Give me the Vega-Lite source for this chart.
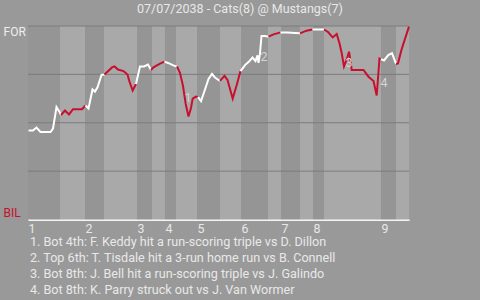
{
  "$schema": "https://vega.github.io/schema/vega-lite/v6.json",
  "width": 381,
  "height": 193.5,
  "autosize": {"type": "none"},
  "padding": {"left": 28, "top": 26, "right": 71, "bottom": 80.5},
  "background": "#999999",
  "config": {
    "view": {"stroke": null},
    "font": "Roboto",
    "axis": {"grid": false, "ticks": false, "domainColor": "#f4f4f4", "labelColor": "#e8e8e8", "labelFont": "Roboto", "labelFontSize": 12.4, "titleFont": "Roboto", "titleFontSize": 12.6, "titleFontWeight": "normal", "titleColor": "#e8e8e8", "zindex": 1}
  },
  "title": {"text": "07/07/2038 - Cats(8) @ Mustangs(7)", "font": "Roboto", "fontSize": 12.5, "fontWeight": "normal", "color": "#e8e8e8", "frame": "group", "anchor": "middle", "dx": 21.5, "offset": 7.5},
  "datasets": {
    "bands": [
      {"t": 0, "t2": 10.67, "side": "top"},
      {"t": 10.67, "t2": 19, "side": "bot"},
      {"t": 19, "t2": 25.33, "side": "top"},
      {"t": 25.33, "t2": 36.33, "side": "bot"},
      {"t": 36.33, "t2": 41.33, "side": "top"},
      {"t": 41.33, "t2": 45.67, "side": "bot"},
      {"t": 45.67, "t2": 49.33, "side": "top"},
      {"t": 49.33, "t2": 56.33, "side": "bot"},
      {"t": 56.33, "t2": 64, "side": "top"},
      {"t": 64, "t2": 71, "side": "bot"},
      {"t": 71, "t2": 80, "side": "top"},
      {"t": 80, "t2": 84.33, "side": "bot"},
      {"t": 84.33, "t2": 90.67, "side": "top"},
      {"t": 90.67, "t2": 95, "side": "bot"},
      {"t": 95, "t2": 98.67, "side": "top"},
      {"t": 98.67, "t2": 117.67, "side": "bot"},
      {"t": 117.67, "t2": 122.67, "side": "top"},
      {"t": 122.67, "t2": 127, "side": "bot"}
    ],
    "grid": [{"p": 0.25}, {"p": 0.5}, {"p": 0.75}, {"p": 1}],
    "wp": [
      {"t": 0.17, "p": 0.46, "h": "T1", "s": "top"},
      {"t": 1.67, "p": 0.46, "h": "T1", "s": "top"},
      {"t": 2.83, "p": 0.475, "h": "T1", "s": "top"},
      {"t": 4.17, "p": 0.452, "h": "T1", "s": "top"},
      {"t": 7.5, "p": 0.452, "h": "T1", "s": "top"},
      {"t": 8.33, "p": 0.47, "h": "T1", "s": "top"},
      {"t": 9.5, "p": 0.581, "h": "T1", "s": "top"},
      {"t": 10.5, "p": 0.556, "h": "T1", "s": "top"},
      {"t": 11, "p": 0.54, "h": "T1", "s": "top"},
      {"t": 11, "p": 0.54, "h": "B1", "s": "bot"},
      {"t": 12.33, "p": 0.563, "h": "B1", "s": "bot"},
      {"t": 13.67, "p": 0.543, "h": "B1", "s": "bot"},
      {"t": 15, "p": 0.57, "h": "B1", "s": "bot"},
      {"t": 18, "p": 0.57, "h": "B1", "s": "bot"},
      {"t": 19.17, "p": 0.589, "h": "B1", "s": "bot"},
      {"t": 19.17, "p": 0.589, "h": "T2", "s": "top"},
      {"t": 20.17, "p": 0.574, "h": "T2", "s": "top"},
      {"t": 21.5, "p": 0.672, "h": "T2", "s": "top"},
      {"t": 22.33, "p": 0.661, "h": "T2", "s": "top"},
      {"t": 23.17, "p": 0.683, "h": "T2", "s": "top"},
      {"t": 24.5, "p": 0.747, "h": "T2", "s": "top"},
      {"t": 25.5, "p": 0.749, "h": "T2", "s": "top"},
      {"t": 25.5, "p": 0.749, "h": "B2", "s": "bot"},
      {"t": 28, "p": 0.786, "h": "B2", "s": "bot"},
      {"t": 28.83, "p": 0.791, "h": "B2", "s": "bot"},
      {"t": 30, "p": 0.775, "h": "B2", "s": "bot"},
      {"t": 31.83, "p": 0.767, "h": "B2", "s": "bot"},
      {"t": 33.17, "p": 0.749, "h": "B2", "s": "bot"},
      {"t": 33.83, "p": 0.712, "h": "B2", "s": "bot"},
      {"t": 34.9, "p": 0.667, "h": "B2", "s": "bot"},
      {"t": 36, "p": 0.7, "h": "B2", "s": "bot"},
      {"t": 36, "p": 0.7, "h": "T3", "s": "top"},
      {"t": 37.33, "p": 0.791, "h": "T3", "s": "top"},
      {"t": 38.67, "p": 0.791, "h": "T3", "s": "top"},
      {"t": 40, "p": 0.801, "h": "T3", "s": "top"},
      {"t": 41, "p": 0.773, "h": "T3", "s": "top"},
      {"t": 41, "p": 0.773, "h": "B3", "s": "bot"},
      {"t": 41.83, "p": 0.786, "h": "B3", "s": "bot"},
      {"t": 44, "p": 0.806, "h": "B3", "s": "bot"},
      {"t": 45.5, "p": 0.816, "h": "B3", "s": "bot"},
      {"t": 45.5, "p": 0.816, "h": "T4", "s": "top"},
      {"t": 46.67, "p": 0.809, "h": "T4", "s": "top"},
      {"t": 49, "p": 0.793, "h": "T4", "s": "top"},
      {"t": 49.67, "p": 0.791, "h": "T4", "s": "top"},
      {"t": 49.67, "p": 0.791, "h": "B4", "s": "bot"},
      {"t": 50.67, "p": 0.757, "h": "B4", "s": "bot"},
      {"t": 51.67, "p": 0.69, "h": "B4", "s": "bot"},
      {"t": 52.57, "p": 0.597, "h": "B4", "s": "bot"},
      {"t": 53.5, "p": 0.532, "h": "B4", "s": "bot"},
      {"t": 54.33, "p": 0.576, "h": "B4", "s": "bot"},
      {"t": 54.9, "p": 0.625, "h": "B4", "s": "bot"},
      {"t": 56, "p": 0.635, "h": "B4", "s": "bot"},
      {"t": 56.67, "p": 0.633, "h": "B4", "s": "bot"},
      {"t": 56.67, "p": 0.633, "h": "T5", "s": "top"},
      {"t": 57.67, "p": 0.612, "h": "T5", "s": "top"},
      {"t": 58.83, "p": 0.664, "h": "T5", "s": "top"},
      {"t": 60.17, "p": 0.726, "h": "T5", "s": "top"},
      {"t": 61.33, "p": 0.752, "h": "T5", "s": "top"},
      {"t": 62.33, "p": 0.734, "h": "T5", "s": "top"},
      {"t": 64, "p": 0.716, "h": "T5", "s": "top"},
      {"t": 64, "p": 0.716, "h": "B5", "s": "bot"},
      {"t": 65.5, "p": 0.742, "h": "B5", "s": "bot"},
      {"t": 66.5, "p": 0.721, "h": "B5", "s": "bot"},
      {"t": 68.23, "p": 0.625, "h": "B5", "s": "bot"},
      {"t": 69.57, "p": 0.695, "h": "B5", "s": "bot"},
      {"t": 70.83, "p": 0.767, "h": "B5", "s": "bot"},
      {"t": 70.83, "p": 0.767, "h": "T6", "s": "top"},
      {"t": 72.33, "p": 0.798, "h": "T6", "s": "top"},
      {"t": 73.67, "p": 0.816, "h": "T6", "s": "top"},
      {"t": 74.83, "p": 0.837, "h": "T6", "s": "top"},
      {"t": 75.83, "p": 0.819, "h": "T6", "s": "top"},
      {"t": 76.5, "p": 0.848, "h": "T6", "s": "top"},
      {"t": 76.83, "p": 0.809, "h": "T6", "s": "top"},
      {"t": 77.33, "p": 0.859, "h": "T6", "s": "top"},
      {"t": 77.83, "p": 0.948, "h": "T6", "s": "top"},
      {"t": 79, "p": 0.948, "h": "T6", "s": "top"},
      {"t": 80.17, "p": 0.945, "h": "T6", "s": "top"},
      {"t": 80.17, "p": 0.945, "h": "B6", "s": "bot"},
      {"t": 81.83, "p": 0.957, "h": "B6", "s": "bot"},
      {"t": 84.17, "p": 0.967, "h": "B6", "s": "bot"},
      {"t": 84.17, "p": 0.967, "h": "T7", "s": "top"},
      {"t": 86.33, "p": 0.967, "h": "T7", "s": "top"},
      {"t": 90.67, "p": 0.962, "h": "T7", "s": "top"},
      {"t": 90.67, "p": 0.962, "h": "B7", "s": "bot"},
      {"t": 92.83, "p": 0.976, "h": "B7", "s": "bot"},
      {"t": 94.83, "p": 0.982, "h": "B7", "s": "bot"},
      {"t": 94.83, "p": 0.982, "h": "T8", "s": "top"},
      {"t": 98.67, "p": 0.982, "h": "T8", "s": "top"},
      {"t": 98.67, "p": 0.982, "h": "B8", "s": "bot"},
      {"t": 100, "p": 0.969, "h": "B8", "s": "bot"},
      {"t": 101.57, "p": 0.941, "h": "B8", "s": "bot"},
      {"t": 102.9, "p": 0.959, "h": "B8", "s": "bot"},
      {"t": 103.83, "p": 0.911, "h": "B8", "s": "bot"},
      {"t": 104.57, "p": 0.859, "h": "B8", "s": "bot"},
      {"t": 105.33, "p": 0.791, "h": "B8", "s": "bot"},
      {"t": 106.23, "p": 0.827, "h": "B8", "s": "bot"},
      {"t": 107, "p": 0.867, "h": "B8", "s": "bot"},
      {"t": 107.43, "p": 0.827, "h": "B8", "s": "bot"},
      {"t": 107.9, "p": 0.773, "h": "B8", "s": "bot"},
      {"t": 111.83, "p": 0.773, "h": "B8", "s": "bot"},
      {"t": 113.5, "p": 0.738, "h": "B8", "s": "bot"},
      {"t": 115.17, "p": 0.716, "h": "B8", "s": "bot"},
      {"t": 116.23, "p": 0.641, "h": "B8", "s": "bot"},
      {"t": 117.17, "p": 0.832, "h": "B8", "s": "bot"},
      {"t": 117.67, "p": 0.829, "h": "B8", "s": "bot"},
      {"t": 117.67, "p": 0.829, "h": "T9", "s": "top"},
      {"t": 118.67, "p": 0.822, "h": "T9", "s": "top"},
      {"t": 120.1, "p": 0.85, "h": "T9", "s": "top"},
      {"t": 121.33, "p": 0.86, "h": "T9", "s": "top"},
      {"t": 122.67, "p": 0.804, "h": "T9", "s": "top"},
      {"t": 122.67, "p": 0.804, "h": "B9", "s": "bot"},
      {"t": 123.33, "p": 0.807, "h": "B9", "s": "bot"},
      {"t": 124.57, "p": 0.881, "h": "B9", "s": "bot"},
      {"t": 125.83, "p": 0.941, "h": "B9", "s": "bot"},
      {"t": 127, "p": 0.997, "h": "B9", "s": "bot"}
    ],
    "notes": [
      {"t": 53.33, "p": 0.628, "label": "1"},
      {"t": 78.67, "p": 0.84, "label": "2"},
      {"t": 107, "p": 0.809, "label": "3"},
      {"t": 118.67, "p": 0.705, "label": "4"}
    ]
  },
  "resolve": {"scale": {"color": "independent"}},
  "layer": [
    {
      "data": {"name": "bands"},
      "mark": {"type": "rect"},
      "encoding": {
        "x": {
          "field": "t", "type": "quantitative",
          "scale": {"domain": [0, 127], "nice": false, "zero": false},
          "axis": {
            "values": [0, 19, 36.33, 45.67, 56.33, 71, 84.33, 95, 117.67],
            "labelExpr": "datum.value < 10 ? '1' : datum.value < 30 ? '2' : datum.value < 40 ? '3' : datum.value < 50 ? '4' : datum.value < 60 ? '5' : datum.value < 75 ? '6' : datum.value < 90 ? '7' : datum.value < 100 ? '8' : '9'",
            "labelAlign": "left", "labelBaseline": "top", "labelPadding": 2.5,
            "labelFlush": false, "labelOverlap": false,
            "domainWidth": 2,
            "title": [
              "1. Bot 4th: F. Keddy hit a run-scoring triple vs D. Dillon",
              "2. Top 6th: T. Tisdale hit a 3-run home run vs B. Connell",
              "3. Bot 8th: J. Bell hit a run-scoring triple vs J. Galindo",
              "4. Bot 8th: K. Parry struck out vs J. Van Wormer"
            ],
            "titleAnchor": "start", "titleAlign": "left",
            "titleX": 1.5, "titleY": 26.2, "titleBaseline": "alphabetic", "titleLineHeight": 16
          }
        },
        "x2": {"field": "t2"},
        "y": {
          "datum": 0, "type": "quantitative",
          "scale": {"domain": [0, 1], "nice": false, "zero": false},
          "axis": {
            "values": [0, 1],
            "labelExpr": "datum.value >= 1 ? 'FOR' : 'BIL'",
            "labelColor": {"condition": {"test": "datum.value >= 1", "value": "#eeeeee"}, "value": "#c8102e"},
            "labelBaseline": {"condition": {"test": "datum.value >= 1", "value": "top"}, "value": "bottom"},
            "labelAlign": "left", "labelPadding": 25, "labelFontSize": 12,
            "title": null, "domainWidth": 1
          }
        },
        "y2": {"datum": 1},
        "color": {"field": "side", "type": "nominal", "scale": {"domain": ["top", "bot"], "range": ["#959595", "#a9a9a9"]}, "legend": null}
      }
    },
    {
      "data": {"name": "grid"},
      "mark": {"type": "rule", "color": "#7c7c7c", "strokeWidth": 1},
      "encoding": {
        "y": {"field": "p", "type": "quantitative"}
      }
    },
    {
      "data": {"name": "wp"},
      "mark": {"type": "line", "strokeWidth": 2},
      "encoding": {
        "x": {"field": "t", "type": "quantitative"},
        "y": {"field": "p", "type": "quantitative"},
        "detail": {"field": "h", "type": "nominal"},
        "color": {"field": "s", "type": "nominal", "scale": {"domain": ["top", "bot"], "range": ["#ffffff", "#c8102e"]}, "legend": null}
      }
    },
    {
      "data": {"name": "notes"},
      "mark": {"type": "text", "font": "Roboto", "fontSize": 12.5, "color": "#d4d4d4", "align": "center", "baseline": "middle"},
      "encoding": {
        "x": {"field": "t", "type": "quantitative"},
        "y": {"field": "p", "type": "quantitative"},
        "text": {"field": "label"}
      }
    }
  ]
}
